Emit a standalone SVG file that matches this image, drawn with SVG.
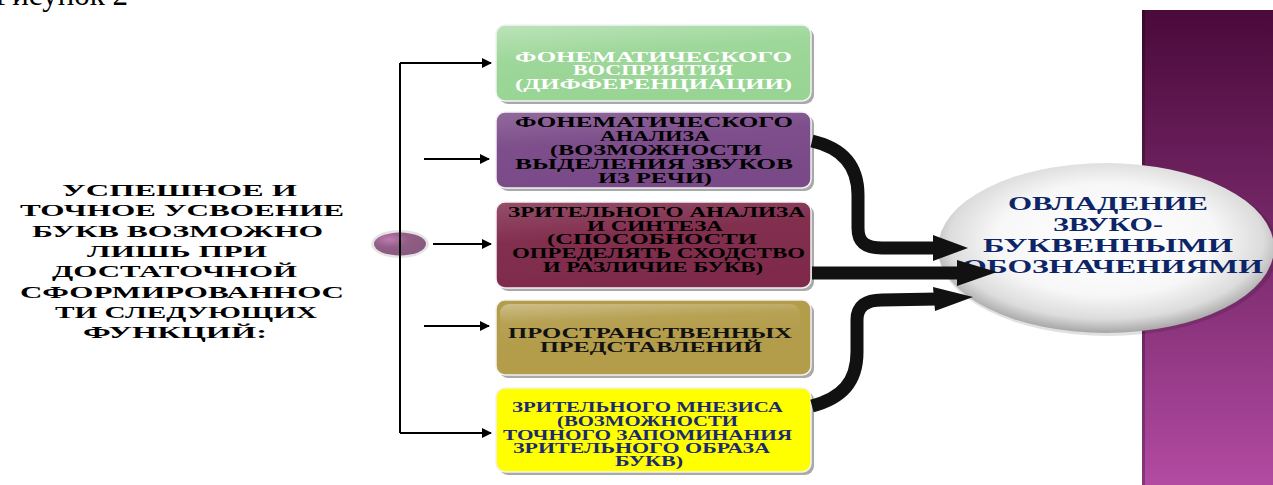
<svg xmlns="http://www.w3.org/2000/svg" width="1273" height="485" viewBox="0 0 1273 485">
<defs>
<style>
.t{font-family:"Liberation Serif","Times New Roman",serif;font-weight:bold;}
.lt{font-size:16px;fill:#000;}
.bt{font-size:15px;}
.et{font-size:18px;fill:#0d2566;}
.thin{stroke:#000;stroke-width:2;fill:none;}
.thick{stroke:#111;stroke-width:13;fill:none;}
.head{fill:#111;}
.shadow{fill:#8c8c8c;opacity:0.75;}
.box{stroke:#f2f2f2;stroke-width:1.5;}
</style>
<marker id="ah" viewBox="0 0 10 10" refX="9" refY="5" markerWidth="5" markerHeight="5" orient="auto" markerUnits="strokeWidth">
<path d="M0,0 L10,5 L0,10 z" fill="#000"/>
</marker>
<linearGradient id="panel" x1="0" y1="0" x2="0" y2="1">
<stop offset="0" stop-color="#4a0a3a"/>
<stop offset="0.5" stop-color="#7a2a6c"/>
<stop offset="1" stop-color="#b24aa2"/>
</linearGradient>
<radialGradient id="oval" cx="0.5" cy="0.45" r="0.55">
<stop offset="0" stop-color="#ffffff"/>
<stop offset="0.6" stop-color="#f7f7f7"/>
<stop offset="0.85" stop-color="#dcdcdc"/>
<stop offset="1" stop-color="#a6a6a6"/>
</radialGradient>
<linearGradient id="gloss" x1="0" y1="0" x2="0.3" y2="1">
<stop offset="0" stop-color="#ffffff" stop-opacity="0.35"/>
<stop offset="0.45" stop-color="#ffffff" stop-opacity="0.05"/>
<stop offset="1" stop-color="#ffffff" stop-opacity="0"/>
</linearGradient>
<radialGradient id="dot" cx="0.3" cy="0.3" r="0.7">
<stop offset="0" stop-color="#c07ab0"/>
<stop offset="0.5" stop-color="#915e86"/>
<stop offset="1" stop-color="#8a5a80"/>
</radialGradient>
</defs>
<rect width="1273" height="485" fill="#ffffff"/>
<text class="t" x="-5" y="5" font-size="31" font-weight="normal" style="font-weight:normal">Рисунок 2</text>
<g id="panel-bg">
<rect x="1142" y="10" width="131" height="475" fill="url(#panel)"/>
<rect x="1142" y="10" width="3" height="475" fill="#000" opacity="0.25"/>
</g>
<g id="intro">
<text class="t lt" x="62" y="196" textLength="235" lengthAdjust="spacingAndGlyphs">УСПЕШНОЕ  И</text>
<text class="t lt" x="20" y="216" textLength="324" lengthAdjust="spacingAndGlyphs">ТОЧНОЕ УСВОЕНИЕ</text>
<text class="t lt" x="32" y="237" textLength="291" lengthAdjust="spacingAndGlyphs">БУКВ ВОЗМОЖНО</text>
<text class="t lt" x="87" y="257" textLength="180" lengthAdjust="spacingAndGlyphs">ЛИШЬ ПРИ</text>
<text class="t lt" x="52" y="277" textLength="245" lengthAdjust="spacingAndGlyphs">ДОСТАТОЧНОЙ</text>
<text class="t lt" x="20" y="298" textLength="324" lengthAdjust="spacingAndGlyphs">СФОРМИРОВАННОС</text>
<text class="t lt" x="55" y="318" textLength="262" lengthAdjust="spacingAndGlyphs">ТИ СЛЕДУЮЩИХ</text>
<text class="t lt" x="83" y="338" textLength="184" lengthAdjust="spacingAndGlyphs">ФУНКЦИЙ:</text>
</g>
<g id="hub">
<ellipse cx="400" cy="244" rx="29" ry="14" fill="#e4e4e4"/>
<ellipse cx="400" cy="244" rx="26" ry="11.5" fill="url(#dot)"/>
</g>
<g id="box-green">
<rect class="shadow" x="499" y="28" width="315" height="76" rx="9"/>
<rect class="box" x="496" y="25" width="315" height="76" rx="9" fill="#98d594"/>
<rect x="496" y="25" width="315" height="76" rx="9" fill="url(#gloss)"/>
<text class="t bt" fill="#ffffff" x="515" y="62" textLength="277" lengthAdjust="spacingAndGlyphs">ФОНЕМАТИЧЕСКОГО</text>
<text class="t bt" fill="#ffffff" x="573" y="75" textLength="160" lengthAdjust="spacingAndGlyphs">ВОСПРИЯТИЯ</text>
<text class="t bt" fill="#ffffff" x="515" y="89" textLength="277" lengthAdjust="spacingAndGlyphs">(ДИФФЕРЕНЦИАЦИИ)</text>
</g>
<g id="box-purple">
<rect class="shadow" x="499" y="115" width="315" height="76" rx="9"/>
<rect class="box" x="496" y="112" width="315" height="76" rx="9" fill="#7a4a88"/>
<rect x="496" y="112" width="315" height="76" rx="9" fill="url(#gloss)" opacity="0.5"/>
<text class="t bt" fill="#000" x="515" y="127" textLength="278" lengthAdjust="spacingAndGlyphs">ФОНЕМАТИЧЕСКОГО</text>
<text class="t bt" fill="#000" x="600" y="141" textLength="110" lengthAdjust="spacingAndGlyphs">АНАЛИЗА</text>
<text class="t bt" fill="#000" x="550" y="155" textLength="212" lengthAdjust="spacingAndGlyphs">(ВОЗМОЖНОСТИ</text>
<text class="t bt" fill="#000" x="515" y="169" textLength="278" lengthAdjust="spacingAndGlyphs">ВЫДЕЛЕНИЯ ЗВУКОВ</text>
<text class="t bt" fill="#000" x="598" y="183" textLength="114" lengthAdjust="spacingAndGlyphs">ИЗ РЕЧИ)</text>
</g>
<g id="box-maroon">
<rect class="shadow" x="499" y="205" width="315" height="86" rx="9"/>
<rect class="box" x="496" y="202" width="315" height="86" rx="9" fill="#7f2a4a"/>
<rect x="496" y="202" width="315" height="86" rx="9" fill="url(#gloss)" opacity="0.5"/>
<text class="t bt" fill="#000" x="508" y="217" textLength="297" lengthAdjust="spacingAndGlyphs">ЗРИТЕЛЬНОГО АНАЛИЗА</text>
<text class="t bt" fill="#000" x="587" y="231" textLength="136" lengthAdjust="spacingAndGlyphs">И СИНТЕЗА</text>
<text class="t bt" fill="#000" x="547" y="244" textLength="210" lengthAdjust="spacingAndGlyphs">(СПОСОБНОСТИ</text>
<text class="t bt" fill="#000" x="512" y="258" textLength="293" lengthAdjust="spacingAndGlyphs">ОПРЕДЕЛЯТЬ СХОДСТВО</text>
<text class="t bt" fill="#000" x="543" y="272" textLength="220" lengthAdjust="spacingAndGlyphs">И РАЗЛИЧИЕ БУКВ)</text>
</g>
<g id="box-olive">
<rect class="shadow" x="499" y="303" width="315" height="75" rx="9"/>
<rect class="box" x="496" y="300" width="315" height="75" rx="9" fill="#b39c4a"/>
<rect x="500" y="304" width="300" height="40" rx="9" fill="url(#gloss)"/>
<text class="t bt" fill="#111" x="508" y="338" textLength="284" lengthAdjust="spacingAndGlyphs">ПРОСТРАНСТВЕННЫХ</text>
<text class="t bt" fill="#111" x="540" y="352" textLength="222" lengthAdjust="spacingAndGlyphs">ПРЕДСТАВЛЕНИЙ</text>
</g>
<g id="box-yellow">
<rect class="shadow" x="499" y="391" width="315" height="84" rx="9"/>
<rect class="box" x="496" y="388" width="315" height="84" rx="9" fill="#ffff00"/>
<text class="t bt" fill="#1b2a6e" x="512" y="412" textLength="271" lengthAdjust="spacingAndGlyphs">ЗРИТЕЛЬНОГО МНЕЗИСА</text>
<text class="t bt" fill="#1b2a6e" x="557" y="426" textLength="181" lengthAdjust="spacingAndGlyphs">(ВОЗМОЖНОСТИ</text>
<text class="t bt" fill="#1b2a6e" x="503" y="440" textLength="289" lengthAdjust="spacingAndGlyphs">ТОЧНОГО ЗАПОМИНАНИЯ</text>
<text class="t bt" fill="#1b2a6e" x="513" y="453" textLength="257" lengthAdjust="spacingAndGlyphs">ЗРИТЕЛЬНОГО ОБРАЗА</text>
<text class="t bt" fill="#1b2a6e" x="615" y="466" textLength="68" lengthAdjust="spacingAndGlyphs">БУКВ)</text>
</g>
<g id="target">
<ellipse cx="1108" cy="250" rx="170" ry="86" fill="#000" opacity="0.12"/>
<ellipse cx="1106" cy="248" rx="168" ry="85" fill="url(#oval)"/>
<text class="t et" x="1008" y="210" textLength="200" lengthAdjust="spacingAndGlyphs">ОВЛАДЕНИЕ</text>
<text class="t et" x="1053" y="231" textLength="110" lengthAdjust="spacingAndGlyphs">ЗВУКО-</text>
<text class="t et" x="983" y="252" textLength="250" lengthAdjust="spacingAndGlyphs">БУКВЕННЫМИ</text>
<text class="t et" x="962" y="273" textLength="301" lengthAdjust="spacingAndGlyphs">ОБОЗНАЧЕНИЯМИ</text>
</g>
<g id="connectors">
<path class="thin" d="M400 63 L400 433"/>
<path class="thin" d="M400 63 L491 63" marker-end="url(#ah)"/>
<path class="thin" d="M400 433 L491 433" marker-end="url(#ah)"/>
<path class="thin" d="M424 159 L489 159" marker-end="url(#ah)"/>
<path class="thin" d="M433 244 L491 244" marker-end="url(#ah)"/>
<path class="thin" d="M424 326 L489 326" marker-end="url(#ah)"/>
<path class="thick" d="M812 141 C 842 148, 858 165, 858 195 L 858 228 C 858 243, 866 248, 882 248 L 938 248"/>
<polygon class="head" points="933,235 968,248 933,261"/>
<path class="thick" d="M812 273 L 960 273"/>
<polygon class="head" points="957,260 997,272 957,286"/>
<path class="thick" d="M812 406 C 842 398, 857 382, 857 352 L 857 320 C 857 306, 866 300, 882 300 L 938 299"/>
<polygon class="head" points="933,287 973,297 935,311"/>
</g>
</svg>
